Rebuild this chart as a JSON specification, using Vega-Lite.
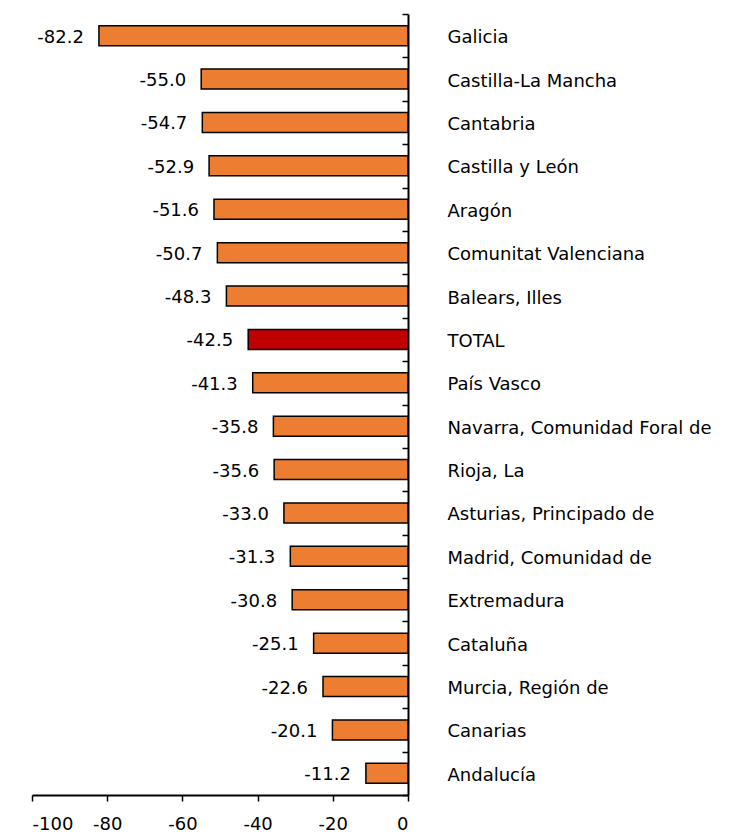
{
  "$schema": "https://vega.github.io/schema/vega-lite/v6.json",
  "autosize": "none",
  "width": 376,
  "height": 781,
  "padding": {"left": 32, "top": 14, "right": 346, "bottom": 37},
  "background": "white",
  "config": {"view": {"stroke": null}, "font": "DejaVu Sans", "locale": {"number": {"decimal": ".", "thousands": ",", "grouping": [3], "currency": ["$", ""], "minus": "-"}}},
  "data": {"values": [
    {"region": "Galicia", "value": -82.2, "kind": "region"},
    {"region": "Castilla-La Mancha", "value": -55.0, "kind": "region"},
    {"region": "Cantabria", "value": -54.7, "kind": "region"},
    {"region": "Castilla y León", "value": -52.9, "kind": "region"},
    {"region": "Aragón", "value": -51.6, "kind": "region"},
    {"region": "Comunitat Valenciana", "value": -50.7, "kind": "region"},
    {"region": "Balears, Illes", "value": -48.3, "kind": "region"},
    {"region": "TOTAL", "value": -42.5, "kind": "total"},
    {"region": "País Vasco", "value": -41.3, "kind": "region"},
    {"region": "Navarra, Comunidad Foral de", "value": -35.8, "kind": "region"},
    {"region": "Rioja, La", "value": -35.6, "kind": "region"},
    {"region": "Asturias, Principado de", "value": -33.0, "kind": "region"},
    {"region": "Madrid, Comunidad de", "value": -31.3, "kind": "region"},
    {"region": "Extremadura", "value": -30.8, "kind": "region"},
    {"region": "Cataluña", "value": -25.1, "kind": "region"},
    {"region": "Murcia, Región de", "value": -22.6, "kind": "region"},
    {"region": "Canarias", "value": -20.1, "kind": "region"},
    {"region": "Andalucía", "value": -11.2, "kind": "region"}
  ]},
  "encoding": {
    "y": {
      "field": "region", "type": "nominal", "sort": null,
      "scale": {"paddingInner": 0, "paddingOuter": 0},
      "axis": {
        "orient": "right", "title": null,
        "domainColor": "black", "domainWidth": 2,
        "tickColor": "black", "tickWidth": 1.5, "tickSize": -6, "tickBand": "extent",
        "labelPadding": 45, "labelOffset": 2, "labelFont": "DejaVu Sans", "labelFontSize": 18,
        "labelColor": "black", "labelAlign": "left", "labelLimit": 400
      }
    },
    "x": {
      "field": "value", "type": "quantitative",
      "scale": {"domain": [-100, 0], "nice": false},
      "axis": {
        "title": null, "values": [-100, -80, -60, -40, -20, 0], "format": "d",
        "grid": false, "domainColor": "black", "domainWidth": 2,
        "tickColor": "black", "tickWidth": 1.5, "tickSize": 6,
        "labelPadding": 14, "labelFont": "DejaVu Sans", "labelFontSize": 18,
        "labelColor": "black"
      }
    }
  },
  "layer": [
    {
      "mark": {"type": "bar", "size": 20, "stroke": "black", "strokeWidth": 1.5},
      "encoding": {
        "color": {
          "field": "kind", "type": "nominal",
          "scale": {"domain": ["region", "total"], "range": ["#ED7D31", "#C00000"]},
          "legend": null
        }
      }
    },
    {
      "mark": {"type": "text", "align": "right", "baseline": "middle", "dx": -15, "dy": 2, "font": "DejaVu Sans", "fontSize": 18, "color": "black"},
      "encoding": {
        "text": {"field": "value", "type": "quantitative", "format": ".1f"}
      }
    }
  ]
}
